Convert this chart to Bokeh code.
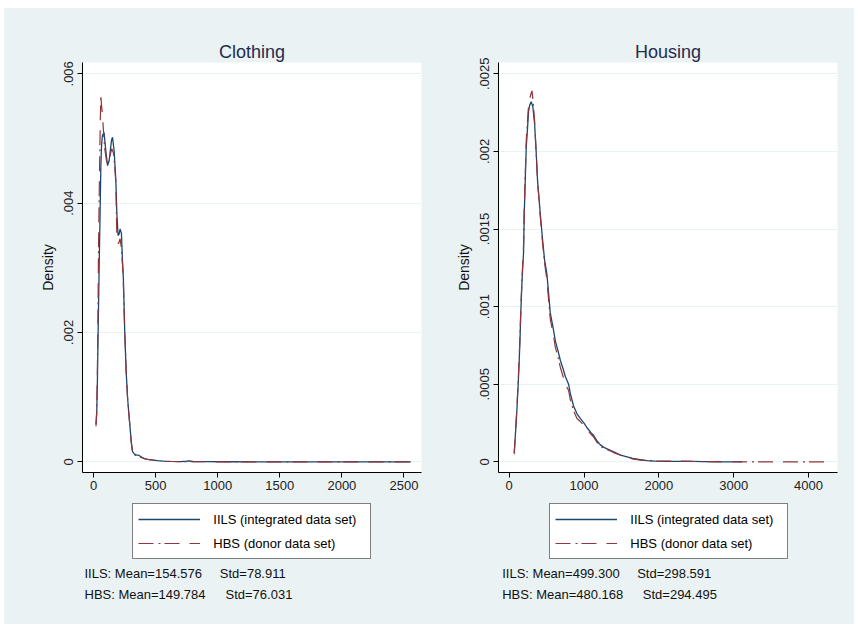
from bokeh.plotting import figure
from bokeh.models import Range1d, FixedTicker, Legend, LegendItem, Label, Title
from bokeh.layouts import row, column
from bokeh.embed import file_html
from bokeh.resources import INLINE

# ---- Clothing: kernel density estimates (density in 1e-3 units) ----
cloth_iils_x = [20, 26, 32, 38, 45, 53, 59, 65, 72, 85, 99, 113, 126, 145, 153, 166, 180, 188,
                198, 206, 214, 225, 233, 241, 252, 263, 274, 283, 292, 303, 314, 330, 345, 367,
                390, 410, 435, 470, 515, 560, 620, 700, 750, 770, 800, 900, 1100, 1400, 1700,
                2000, 2300, 2555]
cloth_iils_y = [0.58, 0.75, 1.31, 2.1, 2.96, 3.84, 4.56, 4.9, 5.05, 5.09, 4.81, 4.58, 4.66, 4.97,
                5.02, 4.81, 4.35, 3.84, 3.5, 3.52, 3.6, 3.53, 3.12, 2.81, 1.98, 1.4, 1.0, 0.78,
                0.59, 0.33, 0.16, 0.12, 0.11, 0.1, 0.07, 0.05, 0.04, 0.03, 0.02, 0.012, 0.008,
                0.005, 0.01, 0.015, 0.006, 0.003, 0.002, 0.001, 0.0005, 0.0003, 0.0002, 0.0001]
cloth_hbs_x = [20, 26, 31, 36, 40, 45, 50, 55, 59, 65, 72, 80, 90, 105, 118, 135, 147, 160, 172,
               180, 188, 201, 214, 225, 238, 250, 262, 274, 283, 292, 303, 314, 330, 350, 370,
               395, 420, 450, 490, 530, 580, 640, 700, 760, 800, 900, 1100, 1400, 1700, 2000,
               2300, 2555]
cloth_hbs_y = [0.55, 0.8, 1.4, 2.3, 3.2, 4.0, 4.7, 5.3, 5.66, 5.5, 5.38, 5.12, 4.85, 4.65, 4.6,
               4.75, 4.84, 4.78, 4.55, 4.3, 3.48, 3.37, 3.45, 3.3, 2.91, 2.1, 1.45, 1.0, 0.77,
               0.58, 0.32, 0.15, 0.11, 0.09, 0.08, 0.06, 0.045, 0.035, 0.025, 0.015, 0.01,
               0.006, 0.004, 0.006, 0.003, 0.002, 0.0015, 0.001, 0.0006, 0.0004, 0.0002, 0.0001]

# ---- Housing: kernel density estimates (density in 1e-3 units) ----
house_iils_x = [67, 85, 103, 120, 134, 145, 156, 170, 178, 192, 201, 215, 228, 245, 259, 275, 294,
                315, 339, 360, 379, 398, 415, 430, 446, 473, 504, 549, 593, 616, 650, 683, 720,
                750, 794, 817, 860, 906, 950, 1000, 1040, 1090, 1129, 1174, 1218, 1280, 1352,
                1420, 1486, 1576, 1650, 1754, 1843, 1950, 2100, 2250, 2450, 2600, 2800, 3000, 3115]
house_iils_y = [0.06, 0.19, 0.333, 0.5, 0.654, 0.8, 0.976, 1.15, 1.23, 1.35, 1.6, 1.82, 2.03,
                2.15, 2.26, 2.3, 2.32, 2.29, 2.18, 2.0, 1.81, 1.7, 1.6, 1.52, 1.43, 1.3, 1.21,
                0.96, 0.848, 0.78, 0.72, 0.655, 0.6, 0.55, 0.5, 0.44, 0.36, 0.31, 0.28, 0.25,
                0.22, 0.19, 0.17, 0.135, 0.11, 0.09, 0.075, 0.06, 0.043, 0.032, 0.022, 0.015,
                0.008, 0.005, 0.004, 0.003, 0.004, 0.002, 0.001, 0.0005, 0.0003]
house_hbs_x = [67, 85, 103, 120, 134, 145, 156, 170, 178, 192, 201, 215, 228, 245, 259, 275, 290,
               305, 318, 339, 360, 379, 398, 415, 430, 446, 473, 504, 549, 593, 616, 650, 683,
               720, 750, 794, 817, 860, 906, 950, 1000, 1040, 1090, 1129, 1174, 1218, 1280,
               1352, 1420, 1486, 1576, 1650, 1754, 1843, 1950, 2100, 2250, 2450, 2700, 3000,
               3300, 3600, 3900, 4250]
house_hbs_y = [0.05, 0.2, 0.35, 0.52, 0.68, 0.83, 1.0, 1.17, 1.25, 1.4, 1.63, 1.86, 2.07, 2.2,
               2.3, 2.34, 2.37, 2.39, 2.33, 2.2, 2.0, 1.8, 1.69, 1.58, 1.5, 1.41, 1.28, 1.17,
               0.92, 0.81, 0.74, 0.68, 0.61, 0.55, 0.5, 0.46, 0.4, 0.33, 0.28, 0.26, 0.235,
               0.21, 0.18, 0.16, 0.125, 0.1, 0.085, 0.07, 0.055, 0.045, 0.03, 0.02, 0.012,
               0.008, 0.006, 0.005, 0.006, 0.003, 0.002, 0.001, 0.0008, 0.0005, 0.0003, 0.0002]

# ---- Axis ticks ----
cloth_xticks = [0, 500, 1000, 1500, 2000, 2500]
cloth_yticks = [0, 0.002, 0.004, 0.006]
cloth_ylabels = ["0", ".002", ".004", ".006"]
house_xticks = [0, 1000, 2000, 3000, 4000]
house_yticks = [0, 0.0005, 0.001, 0.0015, 0.002, 0.0025]
house_ylabels = ["0", ".0005", ".001", ".0015", ".002", ".0025"]

# ---- Summary statistics ----
cloth_stats = {"IILS": (154.576, 78.911), "HBS": (149.784, 76.031)}
house_stats = {"IILS": (499.300, 298.591), "HBS": (480.168, 294.495)}

series_labels = ["IILS (integrated data set)", "HBS (donor data set)"]

BG = "#EAF2F3"
GRID = "#EAF2F3"
NAVY = "#1a476f"
MAROON = "#90353b"
FONT = "Liberation Sans"
HBS_DASH = "15 5 2 4 15 10"

TOP_H = 492      # height of the density panels
BOTTOM_H = 124   # height of the legend / statistics strip below each panel


def density_panel(title, ix, iy, hx, hy, xticks, yticks, ylabels,
                  x_range, y_range, width, left_border):
    p = figure(width=width, height=TOP_H, x_range=Range1d(*x_range), y_range=Range1d(*y_range),
               min_border_left=left_border, min_border_right=width - left_border - 339,
               min_border_top=54, min_border_bottom=TOP_H - 54 - 410,
               output_backend="svg", toolbar_location=None,
               background_fill_color="white", border_fill_color=BG, outline_line_color=None)

    p.add_layout(Title(text=title, align="center", text_font=FONT, text_font_size="18px",
                       text_font_style="normal", text_color="#1e2d4e", standoff=2), "above")

    p.xgrid.visible = False
    p.ygrid.grid_line_color = GRID
    p.ygrid.grid_line_width = 1

    for ax in (p.xaxis, p.yaxis):
        ax.axis_line_color = "black"
        ax.major_tick_line_color = "black"
        ax.major_tick_out = 5
        ax.major_tick_in = 0
        ax.minor_tick_line_color = None
        ax.major_label_text_font = FONT
        ax.major_label_text_font_size = "13px"
        ax.major_label_text_color = "#222222"

    p.xaxis.ticker = FixedTicker(ticks=xticks)
    p.xaxis.major_label_standoff = 3
    p.yaxis.ticker = FixedTicker(ticks=yticks)
    p.yaxis.major_label_overrides = {t: s for t, s in zip(yticks, ylabels)}
    p.yaxis.major_label_orientation = "vertical"
    p.yaxis.major_label_standoff = 4
    p.yaxis.axis_label = "Density"
    p.yaxis.axis_label_text_font = FONT
    p.yaxis.axis_label_text_font_size = "14px"
    p.yaxis.axis_label_text_font_style = "normal"
    p.yaxis.axis_label_text_color = "#111111"
    p.yaxis.axis_label_standoff = 6

    p.line(ix, [v * 1e-3 for v in iy], line_color=NAVY, line_width=1.3)
    p.line(hx, [v * 1e-3 for v in hy], line_color=MAROON, line_width=1.2, line_dash=HBS_DASH)
    return p


def legend_strip(width, stats, box_x, text_x, std_x):
    """Legend box plus the mean / std summary lines under a panel."""
    s = figure(width=width, height=BOTTOM_H, x_range=Range1d(0, 1), y_range=Range1d(0, 1),
               x_axis_type=None, y_axis_type=None, min_border=0,
               output_backend="svg", toolbar_location=None,
               background_fill_color=BG, border_fill_color=BG, outline_line_color=None)
    s.xgrid.visible = False
    s.ygrid.visible = False
    # off-range renderers that only carry the line styles shown in the legend
    r_iils = s.line([5, 6], [5, 6], line_color=NAVY, line_width=1.3)
    r_hbs = s.line([5, 6], [5, 6], line_color=MAROON, line_width=1.2, line_dash=HBS_DASH)

    legend = Legend(items=[LegendItem(label=series_labels[0], renderers=[r_iils]),
                           LegendItem(label=series_labels[1], renderers=[r_hbs])],
                    location=(box_x, 64.7), orientation="vertical",
                    label_text_font=FONT, label_text_font_size="13px", label_text_color="black",
                    glyph_width=62, glyph_height=20, label_height=20, label_width=152,
                    label_standoff=13, spacing=4, padding=5, margin=0,
                    border_line_color="black", border_line_width=1,
                    background_fill_color="white", background_fill_alpha=1.0)
    s.add_layout(legend)

    for row_i, (name, ypos) in enumerate((("IILS", 50.7), ("HBS", 30))):
        mean, std = stats[name]
        s.add_layout(Label(x=text_x, y=ypos, x_units="screen", y_units="screen",
                           text=f"{name}: Mean={mean:.3f}", text_baseline="middle",
                           text_font=FONT, text_font_size="13px", text_color="#111111"))
        s.add_layout(Label(x=std_x[row_i], y=ypos, x_units="screen", y_units="screen",
                           text=f"Std={std:.3f}", text_baseline="middle",
                           text_font=FONT, text_font_size="13px", text_color="#111111"))
    return s


p_cloth = density_panel("Clothing", cloth_iils_x, cloth_iils_y, cloth_hbs_x, cloth_hbs_y,
                        cloth_xticks, cloth_yticks, cloth_ylabels,
                        (-88.6, 2641), (-0.000164, 0.006175), 436, 78)
p_house = density_panel("Housing", house_iils_x, house_iils_y, house_hbs_x, house_hbs_y,
                        house_xticks, house_yticks, house_ylabels,
                        (-143, 4387), (-0.0000682, 0.002573), 414, 58)

s_cloth = legend_strip(436, cloth_stats, 128.3, 80, (215.3, 221.0))
s_house = legend_strip(414, house_stats, 109.3, 61.7, (196.7, 202.3))

layout = column(row(p_cloth, p_house, spacing=0, styles={"background-color": BG}),
                row(s_cloth, s_house, spacing=0, styles={"background-color": BG}),
                spacing=0, margin=(8, 0, 0, 4), styles={"background-color": BG})

open("out.html", "w").write(file_html(layout, INLINE))
